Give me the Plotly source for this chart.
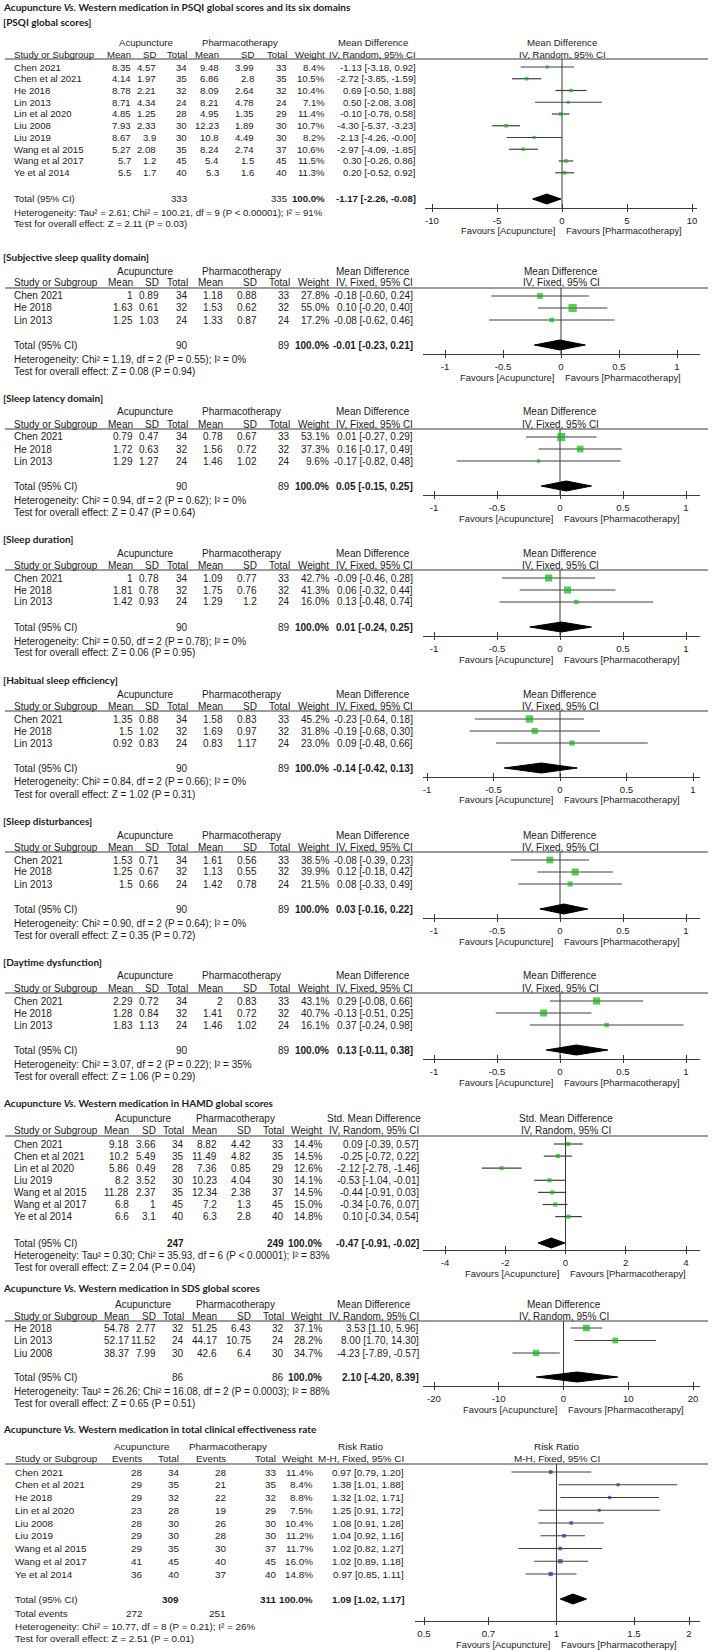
import math
import plotly.graph_objects as go

# ======================= DATA =======================
# --- PSQI global scores (IV, Random) ---
psqi_study = ["Chen 2021", "Chen et al 2021", "He 2018", "Lin 2013", "Lin et al 2020",
              "Liu 2008", "Liu 2019", "Wang et al 2015", "Wang et al 2017", "Ye et al 2014"]
psqi_acu_mean = [8.35, 4.14, 8.78, 8.71, 4.85, 7.93, 8.67, 5.27, 5.7, 5.5]
psqi_acu_sd = [4.57, 1.97, 2.21, 4.34, 1.25, 2.33, 3.9, 2.08, 1.2, 1.7]
psqi_acu_n = [34, 35, 32, 24, 28, 30, 30, 35, 45, 40]
psqi_ph_mean = [9.48, 6.86, 8.09, 8.21, 4.95, 12.23, 10.8, 8.24, 5.4, 5.3]
psqi_ph_sd = [3.99, 2.8, 2.64, 4.78, 1.35, 1.89, 4.49, 2.74, 1.5, 1.6]
psqi_ph_n = [33, 35, 32, 24, 29, 30, 30, 37, 45, 40]
psqi_weight = [8.4, 10.5, 10.4, 7.1, 11.4, 10.7, 8.2, 10.6, 11.5, 11.3]
psqi_md = [-1.13, -2.72, 0.69, 0.50, -0.10, -4.30, -2.13, -2.97, 0.30, 0.20]
psqi_lo = [-3.18, -3.85, -0.50, -2.08, -0.78, -5.37, -4.26, -4.09, -0.26, -0.52]
psqi_hi = [0.92, -1.59, 1.88, 3.08, 0.58, -3.23, -0.0, -1.85, 0.86, 0.92]
psqi_total = [333, 335]
psqi_overall = [-1.17, -2.26, -0.08]
psqi_het = "Heterogeneity: Tau² = 2.61; Chi² = 100.21, df = 9 (P < 0.00001); I² = 91%"
psqi_test = "Test for overall effect: Z = 2.11 (P = 0.03)"

# --- PSQI domains (IV, Fixed) ---
dom_study = ["Chen 2021", "He 2018", "Lin 2013"]
dom_acu_n = [34, 32, 24]
dom_ph_n = [33, 32, 24]
dom_total = [90, 89]

sq_acu_mean = [1, 1.63, 1.25]
sq_acu_sd = [0.89, 0.61, 1.03]
sq_ph_mean = [1.18, 1.53, 1.33]
sq_ph_sd = [0.88, 0.62, 0.87]
sq_weight = [27.8, 55.0, 17.2]
sq_md = [-0.18, 0.10, -0.08]
sq_lo = [-0.60, -0.20, -0.62]
sq_hi = [0.24, 0.40, 0.46]
sq_overall = [-0.01, -0.23, 0.21]
sq_het = "Heterogeneity: Chi² = 1.19, df = 2 (P = 0.55); I² = 0%"
sq_test = "Test for overall effect: Z = 0.08 (P = 0.94)"

sl_acu_mean = [0.79, 1.72, 1.29]
sl_acu_sd = [0.47, 0.63, 1.27]
sl_ph_mean = [0.78, 1.56, 1.46]
sl_ph_sd = [0.67, 0.72, 1.02]
sl_weight = [53.1, 37.3, 9.6]
sl_md = [0.01, 0.16, -0.17]
sl_lo = [-0.27, -0.17, -0.82]
sl_hi = [0.29, 0.49, 0.48]
sl_overall = [0.05, -0.15, 0.25]
sl_het = "Heterogeneity: Chi² = 0.94, df = 2 (P = 0.62); I² = 0%"
sl_test = "Test for overall effect: Z = 0.47 (P = 0.64)"

du_acu_mean = [1, 1.81, 1.42]
du_acu_sd = [0.78, 0.78, 0.93]
du_ph_mean = [1.09, 1.75, 1.29]
du_ph_sd = [0.77, 0.76, 1.2]
du_weight = [42.7, 41.3, 16.0]
du_md = [-0.09, 0.06, 0.13]
du_lo = [-0.46, -0.32, -0.48]
du_hi = [0.28, 0.44, 0.74]
du_overall = [0.01, -0.24, 0.25]
du_het = "Heterogeneity: Chi² = 0.50, df = 2 (P = 0.78); I² = 0%"
du_test = "Test for overall effect: Z = 0.06 (P = 0.95)"

ef_acu_mean = [1.35, 1.5, 0.92]
ef_acu_sd = [0.88, 1.02, 0.83]
ef_ph_mean = [1.58, 1.69, 0.83]
ef_ph_sd = [0.83, 0.97, 1.17]
ef_weight = [45.2, 31.8, 23.0]
ef_md = [-0.23, -0.19, 0.09]
ef_lo = [-0.64, -0.68, -0.48]
ef_hi = [0.18, 0.30, 0.66]
ef_overall = [-0.14, -0.42, 0.13]
ef_het = "Heterogeneity: Chi² = 0.84, df = 2 (P = 0.66); I² = 0%"
ef_test = "Test for overall effect: Z = 1.02 (P = 0.31)"

di_acu_mean = [1.53, 1.25, 1.5]
di_acu_sd = [0.71, 0.67, 0.66]
di_ph_mean = [1.61, 1.13, 1.42]
di_ph_sd = [0.56, 0.55, 0.78]
di_weight = [38.5, 39.9, 21.5]
di_md = [-0.08, 0.12, 0.08]
di_lo = [-0.39, -0.18, -0.33]
di_hi = [0.23, 0.42, 0.49]
di_overall = [0.03, -0.16, 0.22]
di_het = "Heterogeneity: Chi² = 0.90, df = 2 (P = 0.64); I² = 0%"
di_test = "Test for overall effect: Z = 0.35 (P = 0.72)"

dd_acu_mean = [2.29, 1.28, 1.83]
dd_acu_sd = [0.72, 0.84, 1.13]
dd_ph_mean = [2, 1.41, 1.46]
dd_ph_sd = [0.83, 0.72, 1.02]
dd_weight = [43.1, 40.7, 16.1]
dd_md = [0.29, -0.13, 0.37]
dd_lo = [-0.08, -0.51, -0.24]
dd_hi = [0.66, 0.25, 0.98]
dd_overall = [0.13, -0.11, 0.38]
dd_het = "Heterogeneity: Chi² = 3.07, df = 2 (P = 0.22); I² = 35%"
dd_test = "Test for overall effect: Z = 1.06 (P = 0.29)"

# --- HAMD (Std. Mean Difference, IV, Random) ---
hamd_study = ["Chen 2021", "Chen et al 2021", "Lin et al 2020", "Liu 2019",
              "Wang et al 2015", "Wang et al 2017", "Ye et al 2014"]
hamd_acu_mean = [9.18, 10.2, 5.86, 8.2, 11.28, 6.8, 6.6]
hamd_acu_sd = [3.66, 5.49, 0.49, 3.52, 2.37, 1, 3.1]
hamd_acu_n = [34, 35, 28, 30, 35, 45, 40]
hamd_ph_mean = [8.82, 11.49, 7.36, 10.23, 12.34, 7.2, 6.3]
hamd_ph_sd = [4.42, 4.82, 0.85, 4.04, 2.38, 1.3, 2.8]
hamd_ph_n = [33, 35, 29, 30, 37, 45, 40]
hamd_weight = [14.4, 14.5, 12.6, 14.1, 14.5, 15.0, 14.8]
hamd_smd = [0.09, -0.25, -2.12, -0.53, -0.44, -0.34, 0.10]
hamd_lo = [-0.39, -0.72, -2.78, -1.04, -0.91, -0.76, -0.34]
hamd_hi = [0.57, 0.22, -1.46, -0.01, 0.03, 0.07, 0.54]
hamd_total = [247, 249]
hamd_overall = [-0.47, -0.91, -0.02]
hamd_het = "Heterogeneity: Tau² = 0.30; Chi² = 35.93, df = 6 (P < 0.00001); I² = 83%"
hamd_test = "Test for overall effect: Z = 2.04 (P = 0.04)"

# --- SDS (Mean Difference, IV, Random) ---
sds_study = ["He 2018", "Lin 2013", "Liu 2008"]
sds_acu_mean = [54.78, 52.17, 38.37]
sds_acu_sd = [2.77, 11.52, 7.99]
sds_acu_n = [32, 24, 30]
sds_ph_mean = [51.25, 44.17, 42.6]
sds_ph_sd = [6.43, 10.75, 6.4]
sds_ph_n = [32, 24, 30]
sds_weight = [37.1, 28.2, 34.7]
sds_md = [3.53, 8.00, -4.23]
sds_lo = [1.10, 1.70, -7.89]
sds_hi = [5.96, 14.30, -0.57]
sds_total = [86, 86]
sds_overall = [2.10, -4.20, 8.39]
sds_het = "Heterogeneity: Tau² = 26.26; Chi² = 16.08, df = 2 (P = 0.0003); I² = 88%"
sds_test = "Test for overall effect: Z = 0.65 (P = 0.51)"

# --- Total clinical effectiveness rate (Risk Ratio, M-H, Fixed) ---
rr_study = ["Chen 2021", "Chen et al 2021", "He 2018", "Lin et al 2020", "Liu 2008",
            "Liu 2019", "Wang et al 2015", "Wang et al 2017", "Ye et al 2014"]
rr_acu_events = [28, 29, 29, 23, 28, 29, 29, 41, 36]
rr_acu_n = [34, 35, 32, 28, 30, 30, 35, 45, 40]
rr_ph_events = [28, 21, 22, 19, 26, 28, 30, 40, 37]
rr_ph_n = [33, 35, 32, 29, 30, 30, 37, 45, 40]
rr_weight = [11.4, 8.4, 8.8, 7.5, 10.4, 11.2, 11.7, 16.0, 14.8]
rr_rr = [0.97, 1.38, 1.32, 1.25, 1.08, 1.04, 1.02, 1.02, 0.97]
rr_lo = [0.79, 1.01, 1.02, 0.91, 0.91, 0.92, 0.82, 0.89, 0.85]
rr_hi = [1.20, 1.88, 1.71, 1.72, 1.28, 1.16, 1.27, 1.18, 1.11]
rr_total = [309, 311]
rr_total_events = [272, 251]
rr_overall = [1.09, 1.02, 1.17]
rr_het = "Heterogeneity: Chi² = 10.77, df = 8 (P = 0.21); I² = 26%"
rr_test = "Test for overall effect: Z = 2.51 (P = 0.01)"

# tick labels
ticks_psqi = [-10, -5, 0, 5, 10]
ticks_dom = [-1, -0.5, 0, 0.5, 1]
ticks_hamd = [-4, -2, 0, 2, 4]
ticks_sds = [-20, -10, 0, 10, 20]
ticks_rr = [0.5, 0.7, 1, 1.5, 2]
null_md = 0
null_rr = 1

# ======================= STYLE / LAYOUT =======================
W, H = 712, 1652
SANS = "Liberation Sans, Arial, sans-serif"
TITLE = "Lato, Liberation Sans, sans-serif"
FS = 10
TXT = "#1c1c1c"
LINE = "#3a3a3a"
GREEN = "#16b416"
BLUE = "#2a2ab5"

annotations, shapes, axes = [], [], {}
fig = go.Figure()


def X(px):
    return px / W


def Y(py):
    return 1 - py / H


def text(x, y, s, anchor="left", size=FS, family=SANS, bold=False):
    if bold:
        s = "<b>" + s + "</b>"
    annotations.append(dict(x=X(x), y=Y(y), xref="paper", yref="paper", text=s,
                            showarrow=False, xanchor=anchor, yanchor="middle",
                            borderpad=0, font=dict(size=size, family=family, color=TXT)))


def title(y, s):
    text(2, y, s, bold=True, size=10, family=TITLE)


def hline(y, x0=5, x1=708):
    shapes.append(dict(type="line", xref="paper", yref="paper", x0=X(x0), x1=X(x1),
                       y0=Y(y), y1=Y(y), line=dict(color=LINE, width=1.2)))


def fmt(v):
    return f"{v:g}"


def ci(v, lo, hi):
    return f"{v:.2f} [{lo:.2f}, {hi:.2f}]"


def forest(k, g, est, lo, hi, weight, overall, ticks, hdr1, hdr2, log=False,
           color=GREEN, ref=0, dh=5, fs=FS):
    sfx = "" if k == 1 else str(k)
    xa, ya = "x" + sfx, "y" + sfx
    L, R = g["line"]
    (va, pa), (vb, pb) = g["tickpos"]
    f = (lambda v: math.log10(v)) if log else (lambda v: v)
    scale = (pb - pa) / (f(vb) - f(va))
    rng = [f(va) - (pa - L) / scale, f(vb) + (R - pb) / scale]
    p0 = pa + (f(ref) - f(va)) * scale
    ay, ty = g["axis"], g["under"]
    axes["xaxis" + sfx] = dict(domain=[X(L), X(R)], range=rng, type="log" if log else "linear",
                               anchor=ya, tickvals=ticks, ticktext=[fmt(t) for t in ticks],
                               showline=True, linecolor=LINE, linewidth=1, ticks="outside",
                               ticklen=3, tickwidth=1, tickcolor=LINE, showgrid=False,
                               zeroline=False, fixedrange=True,
                               minor=dict(tickmode="array", tickvals=ticks, ticks="inside",
                                          ticklen=4, tickwidth=1, tickcolor=LINE,
                                          showgrid=False),
                               tickfont=dict(family=SANS, size=9.6, color=TXT))
    axes["yaxis" + sfx] = dict(domain=[Y(ay), Y(ty)], range=[ay, ty], visible=False,
                               fixedrange=True)
    rows = [g["r0"] + g["step"] * i for i in range(len(est))]
    # null line
    fig.add_trace(go.Scatter(x=[ref, ref], y=[ay, ty], mode="lines",
                             line=dict(color=LINE, width=1), xaxis=xa, yaxis=ya,
                             hoverinfo="skip"))
    sizes = [max(3, 1.1 * math.sqrt(w)) for w in weight]
    fig.add_trace(go.Scatter(
        x=est, y=rows, mode="markers", xaxis=xa, yaxis=ya,
        marker=dict(symbol="square", size=sizes, color=color, line=dict(width=0)),
        error_x=dict(type="data", symmetric=False,
                     array=[h - e for h, e in zip(hi, est)],
                     arrayminus=[e - l for e, l in zip(est, lo)],
                     width=0, thickness=1.2, color="#404040")))
    oe, ol, oh = overall
    tyy = g["total"]
    fig.add_trace(go.Scatter(x=[ol, oe, oh, oe, ol], y=[tyy, tyy - dh, tyy, tyy + dh, tyy],
                             mode="lines", fill="toself", fillcolor="black",
                             line=dict(color="black", width=1), xaxis=xa, yaxis=ya))
    # forest headers and favours labels
    text(p0, g["h1"], hdr1, "center", size=fs)
    text(p0, g["h2"], hdr2, "center", size=fs)
    fav = ay + 23
    text(p0 - 6, fav, "Favours [Acupuncture]", "right", size=9.4)
    text(p0 + 3, fav, "Favours [Pharmacotherapy]", "left", size=9.4)
    hline(ty)
    return rows


def cont_section(k, ttl, g, c, study, am, asd, an, pm, psd, pn, w, est, lo, hi, tot,
                 overall, het, test, ticks, hdr1, hdr2, bold_counts=False, fs=FS):
    title(g["T"], ttl)
    cols = c["cols"]
    for lab, cx in zip(["Acupuncture", "Pharmacotherapy", hdr1], c["h1"]):
        text(cx, g["h1"], lab, "center", size=fs)
    text(c["study"], g["h2"], "Study or Subgroup", size=fs)
    for lab, cx in zip(["Mean", "SD", "Total", "Mean", "SD", "Total", "Weight", hdr2], cols):
        text(cx, g["h2"], lab, "right", size=fs)
    rows = forest(k, g, est, lo, hi, w, overall, ticks, hdr1, hdr2, fs=fs)
    for i, ry in enumerate(rows):
        text(c["study"], ry, study[i], size=fs)
        vals = [fmt(am[i]), fmt(asd[i]), str(an[i]), fmt(pm[i]), fmt(psd[i]), str(pn[i]),
                f"{w[i]:.1f}%", ci(est[i], lo[i], hi[i])]
        for v, cx in zip(vals, cols):
            text(cx, ry, v, "right", size=fs)
    text(c["study"], g["total"], "Total (95% CI)", size=fs)
    text(cols[2], g["total"], str(tot[0]), "right", bold=bold_counts, size=fs)
    text(cols[5], g["total"], str(tot[1]), "right", bold=bold_counts, size=fs)
    text(cols[6], g["total"], "100.0%", "right", bold=True, size=fs)
    text(cols[7], g["total"], ci(*overall), "right", bold=True, size=fs)
    text(c["study"], g["het"], het, size=fs)
    text(c["study"], g["test"], test, size=fs)


def geo3(T, tickpos, line=(423, 700)):
    return dict(T=T, h1=T + 14, h2=T + 26, under=T + 31, r0=T + 39, step=12, total=T + 88,
                het=T + 102, test=T + 114, axis=T + 97, tickpos=tickpos, line=line)


COL_DOM = dict(study=13, cols=[134, 160, 189, 224, 258, 291, 330, 414], h1=[145, 241, 373])
COL_S1 = dict(study=13, cols=[132, 157, 188, 220, 255, 288, 326, 417], h1=[146, 240, 373])
COL_HS = dict(study=13, cols=[130, 157, 185, 218, 252, 285, 323, 420], h1=[143, 236, 374])

# ---- main title ----
title(7, "Acupuncture <i>Vs.</i> Western medication in PSQI global scores and its six domains")

# ---- PSQI global ----
g1 = dict(T=22, h1=42, h2=54, under=59, r0=67, step=11.75, total=199, het=212, test=224,
          axis=208, tickpos=((-10, 432), (10, 692)), line=(425, 697))
cont_section(1, "[PSQI global scores]", g1, COL_S1, psqi_study, psqi_acu_mean, psqi_acu_sd,
             psqi_acu_n, psqi_ph_mean, psqi_ph_sd, psqi_ph_n, psqi_weight, psqi_md, psqi_lo,
             psqi_hi, psqi_total, psqi_overall, psqi_het, psqi_test, ticks_psqi,
             "Mean Difference", "IV, Random, 95% CI", fs=9.6)

dom_specs = [
    ("[Subjective sleep quality domain]", 257, ((-1, 445), (1, 677)), sq_acu_mean, sq_acu_sd,
     sq_ph_mean, sq_ph_sd, sq_weight, sq_md, sq_lo, sq_hi, sq_overall, sq_het, sq_test),
    ("[Sleep latency domain]", 398, ((-1, 434), (1, 686)), sl_acu_mean, sl_acu_sd,
     sl_ph_mean, sl_ph_sd, sl_weight, sl_md, sl_lo, sl_hi, sl_overall, sl_het, sl_test),
    ("[Sleep duration]", 539, ((-1, 434), (1, 686)), du_acu_mean, du_acu_sd,
     du_ph_mean, du_ph_sd, du_weight, du_md, du_lo, du_hi, du_overall, du_het, du_test),
    ("[Habitual sleep efficiency]", 680, ((-1, 427), (1, 693)), ef_acu_mean, ef_acu_sd,
     ef_ph_mean, ef_ph_sd, ef_weight, ef_md, ef_lo, ef_hi, ef_overall, ef_het, ef_test),
    ("[Sleep disturbances]", 821, ((-1, 434), (1, 686)), di_acu_mean, di_acu_sd,
     di_ph_mean, di_ph_sd, di_weight, di_md, di_lo, di_hi, di_overall, di_het, di_test),
    ("[Daytime dysfunction]", 962, ((-1, 434), (1, 686)), dd_acu_mean, dd_acu_sd,
     dd_ph_mean, dd_ph_sd, dd_weight, dd_md, dd_lo, dd_hi, dd_overall, dd_het, dd_test),
]
for j, (ttl, T, tp, am, asd, pm, psd, w, e, lo, hi, ov, het, test) in enumerate(dom_specs):
    cont_section(j + 2, ttl, geo3(T, tp), COL_DOM, dom_study, am, asd, dom_acu_n, pm, psd,
                 dom_ph_n, w, e, lo, hi, dom_total, ov, het, test, ticks_dom,
                 "Mean Difference", "IV, Fixed, 95% CI")

# ---- HAMD ----
gH = dict(T=1103, h1=1118, h2=1130, under=1136, r0=1144, step=12.1, total=1243, het=1255,
          test=1267, axis=1250, tickpos=((-4, 445), (4, 686)), line=(423, 700))
cont_section(8, "Acupuncture <i>Vs.</i> Western medication in HAMD global scores", gH, COL_HS,
             hamd_study, hamd_acu_mean, hamd_acu_sd, hamd_acu_n, hamd_ph_mean, hamd_ph_sd,
             hamd_ph_n, hamd_weight, hamd_smd, hamd_lo, hamd_hi, hamd_total, hamd_overall,
             hamd_het, hamd_test, ticks_hamd, "Std. Mean Difference", "IV, Random, 95% CI",
             bold_counts=True)

# ---- SDS ----
gS = dict(T=1288, h1=1304, h2=1316, under=1321, r0=1328, step=12.5, total=1377, het=1391,
          test=1403, axis=1386, tickpos=((-20, 434), (20, 693)), line=(423, 700))
cont_section(9, "Acupuncture <i>Vs.</i> Western medication in SDS global scores", gS, COL_HS,
             sds_study, sds_acu_mean, sds_acu_sd, sds_acu_n, sds_ph_mean, sds_ph_sd,
             sds_ph_n, sds_weight, sds_md, sds_lo, sds_hi, sds_total, sds_overall,
             sds_het, sds_test, ticks_sds, "Mean Difference", "IV, Random, 95% CI")

# ---- Risk ratio ----
FR = 9.9
gR = dict(T=1429, h1=1446, h2=1458, under=1464, r0=1472, step=12.75, total=1599, tev=1613,
          het=1626, test=1638, axis=1621, tickpos=((0.5, 424), (2, 689)),
          line=(415, 700))
cR = dict(study=14, cols=[143, 180, 227, 277, 314, 405], h1=[142, 228, 361])
title(gR["T"], "Acupuncture <i>Vs.</i> Western medication in total clinical effectiveness rate")
for lab, cx in zip(["Acupuncture", "Pharmacotherapy", "Risk Ratio"], cR["h1"]):
    text(cx, gR["h1"], lab, "center", size=FR)
text(cR["study"], gR["h2"], "Study or Subgroup", size=FR)
for lab, cx in zip(["Events", "Total", "Events", "Total", "Weight", "M-H, Fixed, 95% CI"],
                   cR["cols"]):
    text(cx, gR["h2"], lab, "right", size=FR)
rowsR = forest(10, gR, rr_rr, rr_lo, rr_hi, rr_weight, rr_overall, ticks_rr, "Risk Ratio",
               "M-H, Fixed, 95% CI", log=True, color=BLUE, ref=null_rr, fs=FR)
for i, ry in enumerate(rowsR):
    text(cR["study"], ry, rr_study[i], size=FR)
    vals = [str(rr_acu_events[i]), str(rr_acu_n[i]), str(rr_ph_events[i]), str(rr_ph_n[i]),
            f"{rr_weight[i]:.1f}%", ci(rr_rr[i], rr_lo[i], rr_hi[i])]
    for v, cx in zip(vals, cR["cols"]):
        text(cx, ry, v, "right", size=FR)
text(cR["study"], gR["total"], "Total (95% CI)", size=FR)
text(cR["cols"][1], gR["total"], str(rr_total[0]), "right", bold=True, size=FR)
text(cR["cols"][3], gR["total"], str(rr_total[1]), "right", bold=True, size=FR)
text(cR["cols"][4], gR["total"], "100.0%", "right", bold=True, size=FR)
text(cR["cols"][5], gR["total"], ci(*rr_overall), "right", bold=True, size=FR)
text(cR["study"], gR["tev"], "Total events", size=FR)
text(cR["cols"][0], gR["tev"], str(rr_total_events[0]), "right", size=FR)
text(cR["cols"][2], gR["tev"], str(rr_total_events[1]), "right", size=FR)
text(cR["study"], gR["het"], rr_het, size=FR)
text(cR["study"], gR["test"], rr_test, size=FR)

fig.update_layout(width=W, height=H, margin=dict(l=0, r=0, t=0, b=0),
                  paper_bgcolor="white", plot_bgcolor="white", showlegend=False,
                  annotations=annotations, shapes=shapes, **axes)
fig.write_html("out.html", config={"displayModeBar": False},
               post_script="document.body.style.margin='0px';")
